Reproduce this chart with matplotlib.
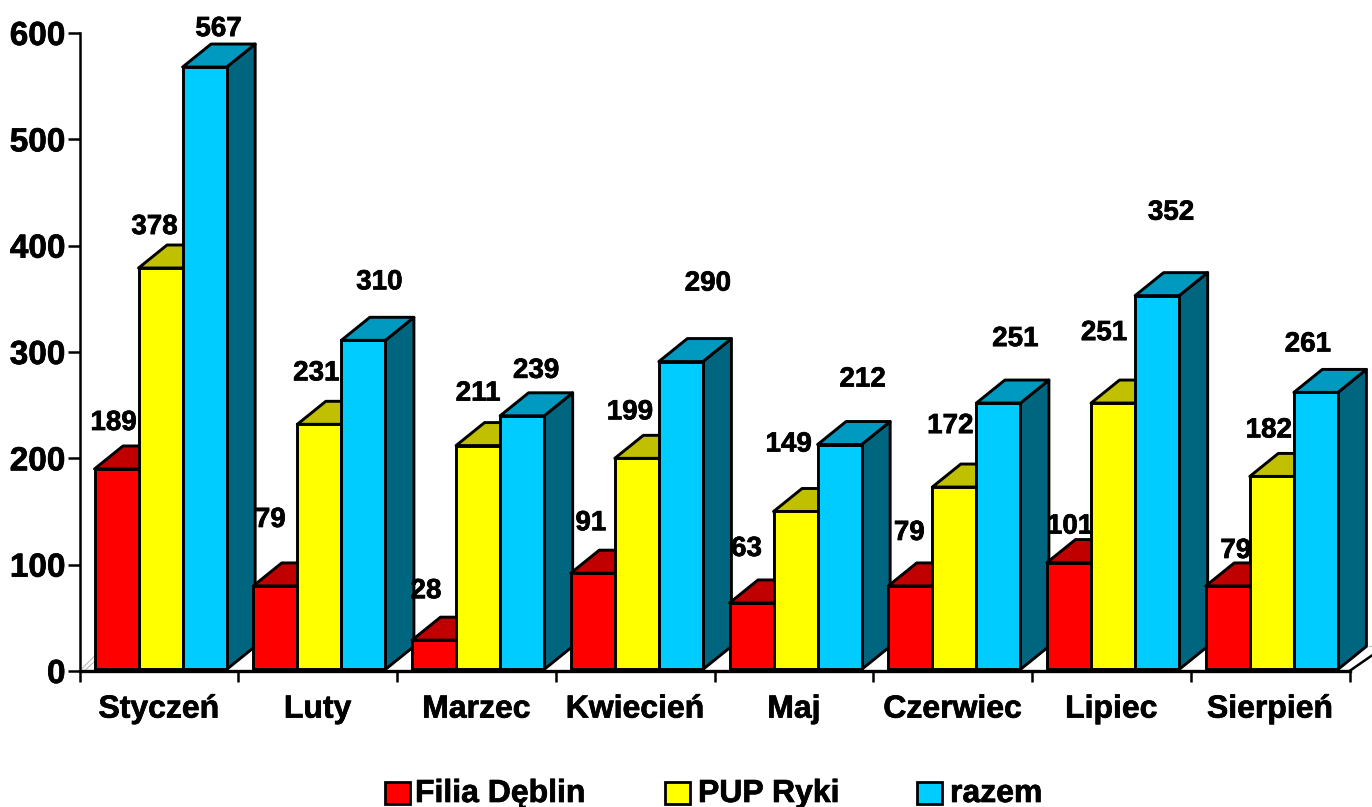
import matplotlib
matplotlib.use("Agg")
import matplotlib.pyplot as plt
from matplotlib.patches import Polygon, Rectangle
from matplotlib.text import Text
import matplotlib.patheffects as pe

plt.rcParams['font.family'] = ['Liberation Sans', 'DejaVu Sans']
plt.rcParams['font.weight'] = 'bold'

months = ["Styczeń", "Luty", "Marzec", "Kwiecień", "Maj", "Czerwiec", "Lipiec", "Sierpień"]
filia = [189, 79, 28, 91, 63, 79, 101, 79]
pup = [378, 231, 211, 199, 149, 172, 251, 182]
razem = [567, 310, 239, 290, 212, 251, 352, 261]
names = ["Filia Dęblin", "PUP Ryki", "razem"]

# front, top, side colours of the fake 3d bars
colors = [("#FF0000", "#C00000", "#800000"),
          ("#FFFF00", "#C0C000", "#808000"),
          ("#00CCFF", "#0099C0", "#006680")]

# label offsets from the bar top centre, in pixels (they were moved by hand in the original)
filia_off = [(-3, 47), (-5, 67), (-8, 50), (-2, 51), (-5, 55), (-1, 54), (1, 37), (8, 36)]
pup_off = [(-6, 42), (-3, 52), (0, 53), (-7, 47), (-7, 68), (-4, 62), (-9, 71), (-3, 47)]
razem_off = [(14, 39), (16, 59), (14, 46), (27, 79), (23, 66), (17, 65), (14, 84), (-8, 49)]

W, H = 1372, 807
fig = plt.figure(figsize=(W / 100, H / 100), dpi=100)
ax = fig.add_axes([79.5 / W, 1 - 671 / H, 1270 / W, 638 / H])
ax.set_xlim(0, 8)
ax.set_ylim(0, 600)

start = 0.0945
bar_w = 0.2775
depth_x = 28.5 / 158.75
depth_y = 23 / 1.0633
base = 1.5
lift = 1.0  # the bars stand a little above the axis line
lw = 2.1

series = [filia, pup, razem]
offsets = [filia_off, pup_off, razem_off]

for i in range(len(months)):
    for s in range(3):
        v = series[s][i] + lift
        x0 = i + start + s * bar_w
        x1 = x0 + bar_w
        front, top, side = colors[s]
        order = 3 + i + s * 0.1
        ax.add_patch(Polygon([(x1, base), (x1 + depth_x, base + depth_y), (x1 + depth_x, v + depth_y), (x1, v)],
                             fc=side, ec="black", lw=lw, clip_on=False, zorder=order, joinstyle="round"))
        ax.add_patch(Polygon([(x0, v), (x0 + depth_x, v + depth_y), (x1 + depth_x, v + depth_y), (x1, v)],
                             fc=top, ec="black", lw=lw, clip_on=False, zorder=order, joinstyle="round"))
        ax.add_patch(Rectangle((x0, base), bar_w, v - base, fc=front, ec="black", lw=lw,
                               clip_on=False, zorder=order + 0.01))

for s in range(3):
    for i, v in enumerate(series[s]):
        cx = i + start + (s + 0.5) * bar_w
        ax.annotate(str(v), (cx, v), xytext=offsets[s][i], textcoords="offset pixels",
                    ha="center", va="center", fontsize=20, fontweight="bold", zorder=30,
                    annotation_clip=False)

# floor edges
ax.plot([0, 15 / 158.75], [0, 14], color="#BBBBBB", lw=0.8, clip_on=False, zorder=1)
ax.plot([0.03, 15 / 158.75], [0, 9], color="#BBBBBB", lw=0.8, clip_on=False, zorder=1)
ax.plot([8, 8 + 23 / 158.75], [0, 15], color="black", lw=1.8, clip_on=False, zorder=2)
ax.plot([8 + 0.12, 8 + 23 / 158.75], [depth_y + 2, depth_y + 2], color="#BBBBBB", lw=0.8, clip_on=False, zorder=1)

for name in ["top", "right"]:
    ax.spines[name].set_visible(False)
ax.spines["left"].set_linewidth(1.8)
ax.spines["bottom"].set_linewidth(2.4)
ax.spines["bottom"].set_zorder(40)

ax.set_yticks(range(0, 601, 100))
ax.tick_params(axis="y", direction="out", length=9, width=1.8, labelsize=24, pad=1)
ax.set_xticks(range(0, 9))
ax.set_xticklabels([])
ax.tick_params(axis="x", which="major", direction="out", length=8, width=1.8)
ax.set_xticks([i + 0.5 for i in range(8)], minor=True)
ax.set_xticklabels(months, minor=True, fontsize=23, fontweight="bold")
ax.tick_params(axis="x", which="minor", length=0, pad=17)

# legend, placed by hand to keep the uneven gaps of the original
swatches = [385, 665, 917]
text_x = [415, 698, 950]
for k in range(3):
    fig.add_artist(Rectangle((swatches[k] / W, 1 - 804 / H), 25 / W, 22 / H, transform=fig.transFigure,
                             fc=colors[k][0], ec="black", lw=2))
    fig.text(text_x[k] / W, 1 - 794 / H, names[k], fontsize=23, fontweight="bold", ha="left", va="center")

# the original text is a bit heavier than plain bold
for t in fig.findobj(Text):
    t.set_path_effects([pe.withStroke(linewidth=0.5, foreground="black")])

fig.savefig("out.png", dpi=100)
